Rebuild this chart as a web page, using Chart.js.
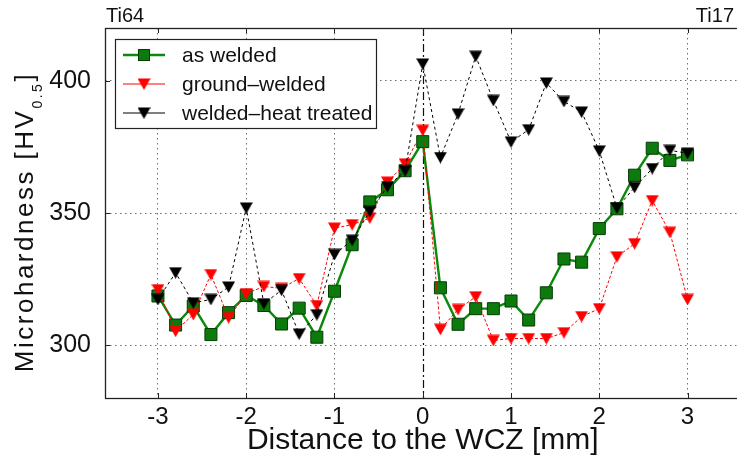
<!DOCTYPE html>
<html lang="en">
<head>
<meta charset="UTF-8">
<title>Microhardness across the WCZ</title>
<script src="https://cdn.jsdelivr.net/npm/chart.js@4/dist/chart.umd.min.js"></script>
<style>
  html, body { margin: 0; padding: 0; background: #fff; overflow: hidden; }
  #wrap { width: 750px; height: 470px; }
</style>
</head>
<body>
<div id="wrap"><canvas id="hardness" width="750" height="470"></canvas></div>
<script>
// distance to the weld centre zone, mm
const distances = [-3, -2.8, -2.6, -2.4, -2.2, -2, -1.8, -1.6, -1.4, -1.2, -1, -0.8, -0.6, -0.4, -0.2, 0,
                   0.2, 0.4, 0.6, 0.8, 1, 1.2, 1.4, 1.6, 1.8, 2, 2.2, 2.4, 2.6, 2.8, 3];

// HV0.5 readings
const asWelded = [318.6, 307.6, 314.8, 304, 312.3, 318.8, 315, 308, 314, 303, 320.4, 338, 354.2, 358.8, 366, 377,
                  321.7, 307.9, 313.8, 313.8, 316.7, 309.5, 319.8, 332.6, 331.4, 344.1, 351.6, 364.3, 374.5, 369.9, 372];
const groundWelded = [321, 305.3, 311.6, 326.7, 310.4, 319.5, 322.2, 321.5, 325.2, 315, 344.3, 345.6, 348.1, 361.7, 368.6, 381.3,
                      306, 313.5, 318.3, 301.8, 302.5, 302.5, 302.5, 304.7, 310.8, 313.8, 333.4, 338.4, 354.7, 342.7, 317.3];
const heatTreated = [317.3, 327.4, 316, 317.3, 322, 351.9, 315.7, 320.8, 304.2, 311.5, 334.3, 339.7, 350.6, 360, 366, 406.4,
                     371, 387.5, 409.3, 392.6, 376.9, 381.5, 399.2, 392.2, 388.2, 373.5, 351.9, 359.7, 366.8, 373.7, 372.6];

const seriesNames = ['as welded', 'ground\u2013welded', 'welded\u2013heat treated'];
const xTicks = [-3, -2, -1, 0, 1, 2, 3];
const yTicks = [300, 350, 400];

const FONT = "'Liberation Sans', Arial, sans-serif";

// matplotlib style 'v' marker
function triangleMarker(color) {
    const c = document.createElement('canvas');
    c.width = 13;
    c.height = 12;
    const g = c.getContext('2d');
    g.fillStyle = color;
    g.beginPath();
    g.moveTo(0, 0.5);
    g.lineTo(13, 0.5);
    g.lineTo(6.5, 12);
    g.closePath();
    g.fill();
    return c;
}

const pts = vals => distances.map((x, i) => ({ x: x, y: vals[i] }));

const datasets = [
    {
        label: seriesNames[0], data: pts(asWelded), order: 2,
        borderColor: '#0a8a0a', borderWidth: 2.4,
        pointStyle: 'rect', pointRadius: 8.5,
        pointBackgroundColor: '#0d7a0d', pointBorderColor: '#033d03', pointBorderWidth: 1
    },
    {
        label: seriesNames[1], data: pts(groundWelded), order: 1,
        borderColor: '#ff0000', borderWidth: 1, borderDash: [3, 2],
        pointStyle: triangleMarker('#ff0000'), pointRadius: 6
    },
    {
        label: seriesNames[2], data: pts(heatTreated), order: 0,
        borderColor: '#000', borderWidth: 1, borderDash: [3, 3],
        pointStyle: triangleMarker('#000'), pointRadius: 6
    }
];

// frame, inward ticks, centre line, legend, y title, material names
const decor = {
    id: 'decor',
    beforeDatasetsDraw(chart) {
        const { ctx, chartArea: a, scales: { x } } = chart;
        const x0 = Math.round(x.getPixelForValue(0)) + 0.5;
        ctx.save();
        ctx.strokeStyle = '#111';
        ctx.lineWidth = 1.2;
        ctx.setLineDash([8, 3, 2, 3]);
        ctx.beginPath();
        ctx.moveTo(x0, a.top);
        ctx.lineTo(x0, a.bottom);
        ctx.stroke();
        ctx.restore();
    },
    afterDatasetsDraw(chart) {
        const { ctx, chartArea: a, scales: { x, y } } = chart;
        ctx.save();
        ctx.strokeStyle = '#222';
        ctx.lineWidth = 1.3;
        ctx.strokeRect(a.left + 0.5, a.top + 0.5, a.right - a.left, a.bottom - a.top);
        ctx.lineWidth = 1;
        ctx.beginPath();
        xTicks.forEach(v => {
            const px = Math.round(x.getPixelForValue(v)) + 0.5;
            ctx.moveTo(px, a.bottom); ctx.lineTo(px, a.bottom - 5);
            ctx.moveTo(px, a.top); ctx.lineTo(px, a.top + 5);
        });
        yTicks.forEach(v => {
            const py = Math.round(y.getPixelForValue(v)) + 0.5;
            ctx.moveTo(a.left, py); ctx.lineTo(a.left + 5, py);
        });
        ctx.stroke();
        ctx.restore();
    },
    afterDraw(chart) {
        const { ctx, chartArea: a } = chart;
        ctx.save();

        // legend
        const bx = a.left + 10, by = a.top + 11, bw = 261, bh = 89;
        ctx.fillStyle = '#fff';
        ctx.fillRect(bx, by, bw, bh);
        ctx.strokeStyle = '#222';
        ctx.lineWidth = 1.2;
        ctx.strokeRect(bx + 0.5, by + 0.5, bw, bh);
        chart.data.datasets.forEach((ds, i) => {
            const ry = by + 16 + i * 29;
            ctx.save();
            ctx.strokeStyle = ds.borderColor;
            ctx.lineWidth = i === 0 ? 2.4 : 1;
            ctx.beginPath();
            ctx.moveTo(bx + 8, ry);
            ctx.lineTo(bx + 50, ry);
            ctx.stroke();
            ctx.restore();
            const mx = bx + 29;
            if (i === 0) {
                ctx.fillStyle = ds.pointBackgroundColor;
                ctx.strokeStyle = ds.pointBorderColor;
                ctx.lineWidth = 1;
                ctx.fillRect(mx - 6, ry - 6, 12, 12);
                ctx.strokeRect(mx - 6 + 0.5, ry - 6 + 0.5, 11, 11);
            } else {
                ctx.drawImage(ds.pointStyle, mx - 6.5, ry - 6);
            }
            ctx.fillStyle = '#111';
            ctx.font = '21px ' + FONT;
            ctx.textBaseline = 'middle';
            ctx.textAlign = 'left';
            ctx.fillText(ds.label, bx + 67, ry + 1);
        });

        // material names above the frame
        ctx.fillStyle = '#111';
        ctx.font = '20px ' + FONT;
        ctx.textBaseline = 'alphabetic';
        ctx.textAlign = 'left';
        ctx.fillText('Ti64', 106, 22);
        ctx.textAlign = 'right';
        ctx.fillText('Ti17', 734, 22);

        // y title with subscript
        const main = 'Microhardness [HV', sub = '0.5', close = ']';
        ctx.translate(33, 222);
        ctx.rotate(-Math.PI / 2);
        ctx.textAlign = 'left';
        ctx.letterSpacing = '2.5px';
        ctx.font = '26px ' + FONT;
        const wMain = ctx.measureText(main).width;
        const wClose = ctx.measureText(close).width;
        ctx.font = '14px ' + FONT;
        const wSub = ctx.measureText(sub).width;
        let tx = -(wMain + wSub + wClose) / 2;
        ctx.font = '26px ' + FONT;
        ctx.fillText(main, tx, 0);
        tx += wMain;
        ctx.font = '14px ' + FONT;
        ctx.fillText(sub, tx, 9);
        tx += wSub;
        ctx.font = '26px ' + FONT;
        ctx.fillText(close, tx, 0);
        ctx.restore();
    }
};

new Chart(document.getElementById('hardness'), {
    type: 'line',
    data: { datasets: datasets },
    options: {
        responsive: false,
        animation: false,
        events: [],
        layout: { padding: { top: 28, left: 0, right: 0, bottom: 0 } },
        plugins: { legend: { display: false }, tooltip: { enabled: false } },
        scales: {
            x: {
                type: 'linear', min: -3.6, max: 3.6,
                afterBuildTicks: s => { s.ticks = xTicks.map(v => ({ value: v })); },
                afterFit: s => { s.height = 72; s.paddingLeft = 0; s.paddingRight = 0; },
                ticks: { color: '#111', font: { family: FONT, size: 24 }, padding: 5, maxRotation: 0 },
                grid: {
                    drawTicks: false,
                    color: ctx => ctx.tick && ctx.tick.value === 0 ? 'rgba(0,0,0,0)' : 'rgba(60,60,60,0.75)',
                    lineWidth: 1
                },
                border: { display: false, dash: [1.5, 3.5] },
                title: {
                    display: true, text: 'Distance to the WCZ [mm]', color: '#111',
                    font: { family: FONT, size: 30 }, padding: { top: 0, bottom: 11 }
                }
            },
            y: {
                min: 280, max: 420,
                afterBuildTicks: s => { s.ticks = yTicks.map(v => ({ value: v })); },
                afterFit: s => { s.width = 105; s.paddingTop = 0; s.paddingBottom = 0; },
                ticks: { color: '#111', font: { family: FONT, size: 25 }, padding: 14 },
                grid: { drawTicks: false, color: 'rgba(60,60,60,0.75)', lineWidth: 1 },
                border: { display: false, dash: [1.5, 3.5] }
            }
        }
    },
    plugins: [decor]
});
</script>
</body>
</html>
